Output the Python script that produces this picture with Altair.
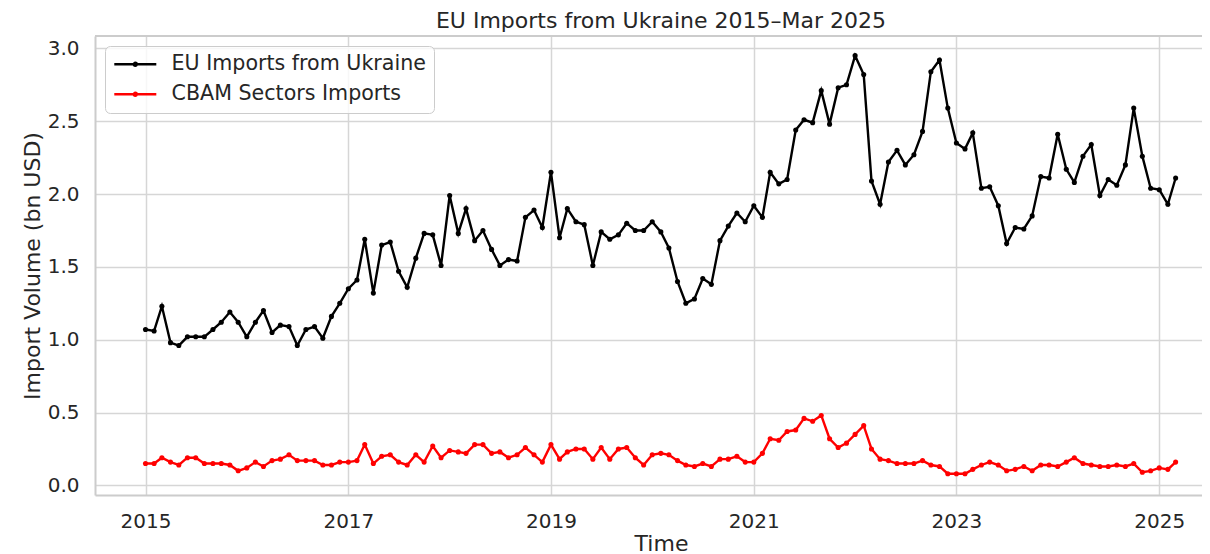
import altair as alt
import pandas as pd

# Monthly values, Jan 2015 - Mar 2025 (bn USD)
eu_imports = [
    1.07, 1.06, 1.23, 0.98, 0.96, 1.02, 1.02, 1.02, 1.07, 1.12, 1.19, 1.12,
    1.02, 1.12, 1.20, 1.05, 1.10, 1.09, 0.96, 1.07, 1.09, 1.01, 1.16, 1.25,
    1.35, 1.41, 1.69, 1.32, 1.65, 1.67, 1.47, 1.36, 1.56, 1.73, 1.72, 1.51,
    1.99, 1.73, 1.90, 1.68, 1.75, 1.62, 1.51, 1.55, 1.54, 1.84, 1.89, 1.77,
    2.15, 1.70, 1.90, 1.81, 1.79, 1.51, 1.74, 1.69, 1.72, 1.80, 1.75, 1.75,
    1.81, 1.74, 1.63, 1.40, 1.25, 1.28, 1.42, 1.38, 1.68, 1.78, 1.87, 1.81,
    1.92, 1.84, 2.15, 2.07, 2.10, 2.44, 2.51, 2.49, 2.71, 2.48, 2.73, 2.75,
    2.95, 2.82, 2.09, 1.93, 2.22, 2.30, 2.20, 2.27, 2.43, 2.84, 2.92, 2.59,
    2.35, 2.31, 2.42, 2.04, 2.05, 1.92, 1.66, 1.77, 1.76, 1.85, 2.12, 2.11,
    2.41, 2.17, 2.08, 2.26, 2.34, 1.99, 2.10, 2.06, 2.20, 2.59, 2.26, 2.04,
    2.03, 1.93, 2.11,
]
cbam_imports = [
    0.15, 0.15, 0.19, 0.16, 0.14, 0.19, 0.19, 0.15, 0.15, 0.15, 0.14, 0.10,
    0.12, 0.16, 0.13, 0.17, 0.18, 0.21, 0.17, 0.17, 0.17, 0.14, 0.14, 0.16,
    0.16, 0.17, 0.28, 0.15, 0.20, 0.21, 0.16, 0.14, 0.21, 0.16, 0.27, 0.19,
    0.24, 0.23, 0.22, 0.28, 0.28, 0.22, 0.23, 0.19, 0.21, 0.26, 0.21, 0.16,
    0.28, 0.18, 0.23, 0.25, 0.25, 0.18, 0.26, 0.18, 0.25, 0.26, 0.19, 0.14,
    0.21, 0.22, 0.21, 0.17, 0.14, 0.13, 0.15, 0.13, 0.18, 0.18, 0.20, 0.16,
    0.16, 0.22, 0.32, 0.31, 0.37, 0.38, 0.46, 0.44, 0.48, 0.32, 0.26, 0.29,
    0.35, 0.41, 0.25, 0.18, 0.17, 0.15, 0.15, 0.15, 0.17, 0.14, 0.13, 0.08,
    0.08, 0.08, 0.11, 0.14, 0.16, 0.14, 0.10, 0.11, 0.13, 0.10, 0.14, 0.14,
    0.13, 0.16, 0.19, 0.15, 0.14, 0.13, 0.13, 0.14, 0.13, 0.15, 0.09, 0.10,
    0.12, 0.11, 0.16,
]
series_names = ["EU Imports from Ukraine", "CBAM Sectors Imports"]
series_colors = ["black", "red"]
tick_years = [2015, 2017, 2019, 2021, 2023, 2025]
y_ticks = [0.0, 0.5, 1.0, 1.5, 2.0, 2.5, 3.0]
title_text = "EU Imports from Ukraine 2015–Mar 2025"

months = pd.date_range("2015-01-01", periods=len(eu_imports), freq="MS")
df = pd.concat([
    pd.DataFrame({"Time": months, "value": eu_imports, "series": series_names[0]}),
    pd.DataFrame({"Time": months, "value": cbam_imports, "series": series_names[1]}),
])
one_row = pd.DataFrame({"label": [title_text]})

W, H = 1107, 459
TXT = "#262626"
GRID = "#d6d6d6"
FRAME = "#cccccc"

x_enc = alt.X(
    "Time:T",
    scale=alt.Scale(domain=[alt.DateTime(year=2014, month=7, date=3),
                            alt.DateTime(year=2025, month=6, date=4)]),
    axis=alt.Axis(
        values=[alt.DateTime(year=y, month=1, date=1) for y in tick_years],
        format="%Y", title="Time", labelPadding=16, titleX=566, titleY=55,
        titleBaseline="alphabetic", titleAnchor="start", titleAlign="center",
    ),
)
y_enc = alt.Y(
    "value:Q",
    scale=alt.Scale(domain=[-0.066, 3.085], nice=False, zero=False),
    axis=alt.Axis(values=y_ticks, format=".1f", title="Import Volume (bn USD)",
                  labelPadding=16, titleX=-63, titleY=229.5, titleBaseline="middle",
                  titleAlign="center"),
)
color_enc = alt.Color(
    "series:N",
    scale=alt.Scale(domain=series_names, range=series_colors),
    legend=alt.Legend(
        title=None, orient="none", legendX=10, legendY=10,
        symbolType="M-1.8,0L6.6,0M2.1,0A0.3,0.3 0 1,1 2.7,0A0.3,0.3 0 1,1 2.1,0",
        symbolSize=100, symbolStrokeWidth=2.4, labelOffset=38,
        labelFontSize=20.6, labelColor=TXT, rowPadding=9, padding=8,
        strokeColor=FRAME, fillColor="rgba(255,255,255,0.8)", cornerRadius=5,
        labelLimit=400,
    ),
)

lines = alt.Chart(df).mark_line(strokeWidth=2.4).encode(
    x=x_enc, y=y_enc, color=color_enc, detail="series:N"
)
points = alt.Chart(df).mark_point(filled=True, size=26, opacity=1).encode(
    x="Time:T", y="value:Q", color=alt.Color("series:N")
)
top_frame = alt.Chart(one_row).mark_rule(color=FRAME, strokeWidth=2).encode(
    x=alt.value(0), x2=alt.value(W), y=alt.value(0)
)
title_mark = alt.Chart(one_row).mark_text(
    fontSize=22, color=TXT, align="center", baseline="alphabetic"
).encode(text="label:N", x=alt.value(566), y=alt.value(-7.7))

chart = alt.layer(lines, points, top_frame, title_mark).properties(
    width=W, height=H,
    autosize=alt.AutoSizeParams(type="none"),
    padding={"left": 87, "top": 28, "right": 0, "bottom": 59},
).configure(
    font="DejaVu Sans", background="white",
).configure_view(
    stroke=None,
).configure_axis(
    labelFontSize=20, labelColor=TXT, titleFontSize=22, titleColor=TXT,
    titleFontWeight="normal", grid=True, gridColor=GRID, gridWidth=1.5,
    ticks=False, domainColor=FRAME, domainWidth=2,
)

chart.save("out.html", embed_options={"renderer": "svg", "actions": False})
